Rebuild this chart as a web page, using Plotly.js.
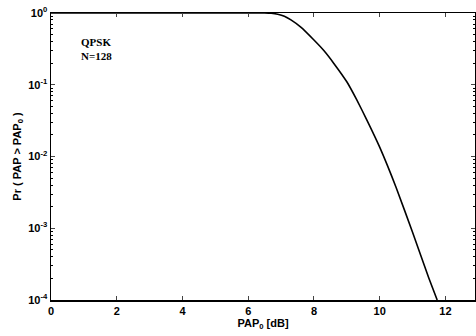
<!DOCTYPE html>
<html>
<head>
<meta charset="utf-8">
<script src="https://cdn.plot.ly/plotly-3.0.1.min.js"></script>
<style>html,body{margin:0;padding:0;background:#fff;}#chart{width:476px;height:336px;}</style>
</head>
<body>
<div id="chart"></div>
<script>
const papDb = [0, 1, 2, 3, 4, 5, 6, 6.5, 6.7, 6.9, 7.1, 7.3, 7.6, 8, 8.3, 8.6, 9, 9.3, 9.6, 10, 10.5, 11, 11.5, 11.75];
const prob  = [1, 1, 1, 1, 1, 1, 1, 1, 0.99, 0.96, 0.90, 0.80, 0.635, 0.42, 0.30, 0.20, 0.11, 0.062, 0.033, 0.0135, 0.0037, 0.00088, 0.0002, 0.0001];
const yTickVals = [1e-4, 1e-3, 1e-2, 1e-1, 1];
const yTickText = ['10<sup>-4</sup>', '10<sup>-3</sup>', '10<sup>-2</sup>', '10<sup>-1</sup>', '10<sup>0</sup>'];
const yMinorVals = [];
[1e-4, 1e-3, 1e-2, 1e-1].forEach(d => { for (let k = 2; k <= 9; k++) yMinorVals.push(d * k); });
const xTickVals = [0, 2, 4, 6, 8, 10, 12];

const tickFont = {family: 'Liberation Sans, Arial, sans-serif', size: 11, color: '#000', weight: 700};

Plotly.newPlot('chart', [{
  x: papDb, y: prob, type: 'scatter', mode: 'lines',
  line: {color: '#000', width: 1.6, shape: 'spline', smoothing: 0.4},
  hoverinfo: 'none'
}], {
  width: 476, height: 336,
  margin: {l: 51, r: 1, t: 13, b: 36},
  paper_bgcolor: '#fff', plot_bgcolor: '#fff',
  showlegend: false,
  xaxis: {
    range: [0, 12.9], tickvals: xTickVals, ticks: 'inside', ticklen: 4, tickwidth: 1,
    showgrid: false, zeroline: false, showline: true, linecolor: '#000', linewidth: 1.5,
    mirror: 'ticks', tickfont: tickFont,
    title: {text: 'PAP<sub>0</sub> [dB]', font: tickFont, standoff: 2}
  },
  yaxis: {
    type: 'log', range: [-4, 0], tickvals: yTickVals, ticktext: yTickText,
    ticks: 'inside', ticklen: 4, tickwidth: 1,
    minor: {tickmode: 'array', tickvals: yMinorVals, ticks: 'inside', ticklen: 2, tickcolor: '#000', showgrid: false},
    showgrid: false, zeroline: false, showline: true, linecolor: '#000', linewidth: 1.5,
    mirror: 'ticks', tickfont: tickFont,
    title: {text: 'Pr ( PAP > PAP<sub>0</sub> )', font: {family: 'Liberation Sans, Arial, sans-serif', size: 11, color: '#000', weight: 700}, standoff: 4}
  },
  annotations: [{
    x: 0.85, y: -0.5, xref: 'x', yref: 'y', xanchor: 'left', yanchor: 'middle',
    text: 'QPSK<br>N=128', align: 'left', showarrow: false,
    font: {family: 'Liberation Serif, Times New Roman, serif', size: 11, color: '#000', weight: 700}
  }]
}, {staticPlot: true});
</script>
</body>
</html>
